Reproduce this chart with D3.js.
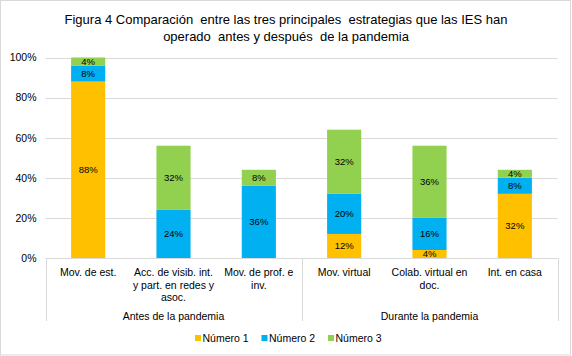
<!DOCTYPE html>
<html>
<head>
<meta charset="utf-8">
<script src="https://cdn.jsdelivr.net/npm/d3@7"></script>
<style>
  html, body { margin: 0; padding: 0; background: #fff; }
  svg { display: block; font-family: "Liberation Sans", Arial, sans-serif; }
</style>
</head>
<body>
<svg id="chart" width="572" height="356"></svg>
<script>
const titleLines = ["Figura 4 Comparación  entre las tres principales  estrategias que las IES han",
                    "operado  antes y después  de la pandemia"];
const categories = ["Mov. de est.", "Acc. de visib. int. y part. en redes y asoc.", "Mov. de prof. e inv.",
                    "Mov. virtual", "Colab. virtual en doc.", "Int. en casa"];
const categoryLines = [["Mov. de est."], ["Acc. de visib. int.", "y part. en redes y", "asoc."], ["Mov. de prof. e", "inv."],
                       ["Mov. virtual"], ["Colab. virtual en", "doc."], ["Int. en casa"]];
const groups = ["Antes de la pandemia", "Durante la pandemia"];
const groupSizes = [3, 3];
const seriesNames = ["Número 1", "Número 2", "Número 3"];
const numero1 = [88, 0, 0, 12, 4, 32];
const numero2 = [8, 24, 36, 20, 16, 8];
const numero3 = [4, 32, 8, 32, 36, 4];
const yTicks = [0, 20, 40, 60, 80, 100];
const colors = ["#FFC000", "#00B0F0", "#92D050"];

const svg = d3.select("#chart");
const W = 572, H = 356;
const plot = { left: 45.5, right: 557.5, top: 57.5, bottom: 258 };

// outer border
svg.append("rect").attr("x", 0.5).attr("y", 0.5).attr("width", 570).attr("height", 354.5)
  .attr("fill", "#fff").attr("stroke", "#d9d9d9");

// title
svg.append("g").selectAll("text").data(titleLines).join("text")
  .attr("x", 286).attr("y", (d, i) => 23.5 + i * 17.5)
  .attr("text-anchor", "middle").attr("font-size", 13).attr("fill", "#000")
  .style("white-space", "pre")
  .text(d => d);

const x = d3.scaleBand().domain(categories).range([plot.left, plot.right])
  .paddingInner(0.6).paddingOuter(0.3);
const y = d3.scaleLinear().domain([0, 100]).range([plot.bottom, plot.top]);

// gridlines
svg.append("g").selectAll("line").data(yTicks.filter(t => t > 0)).join("line")
  .attr("x1", plot.left).attr("x2", plot.right)
  .attr("y1", d => Math.round(y(d)) + 0.5).attr("y2", d => Math.round(y(d)) + 0.5)
  .attr("stroke", "#d9d9d9").attr("stroke-width", 1);

// y axis labels
const yAxis = d3.axisLeft(y).tickValues(yTicks).tickFormat(d => d + "%").tickSize(0).tickPadding(9);
const gy = svg.append("g").attr("transform", `translate(${plot.left},0)`).call(yAxis);
gy.select(".domain").remove();
gy.selectAll("text").attr("font-size", 10.5).attr("fill", "#000").attr("font-family", "Liberation Sans, Arial, sans-serif");

// stacked data
const rows = categories.map((c, i) => ({ cat: c, s0: numero1[i], s1: numero2[i], s2: numero3[i] }));
const stack = d3.stack().keys(["s0", "s1", "s2"]);
const series = stack(rows);

const gBars = svg.append("g");
series.forEach((s, si) => {
  gBars.append("g").attr("fill", colors[si]).selectAll("rect").data(s).join("rect")
    .attr("x", d => x(d.data.cat))
    .attr("width", x.bandwidth())
    .attr("y", d => y(d[1]))
    .attr("height", d => y(d[0]) - y(d[1]));
});

// data labels
series.forEach((s, si) => {
  gBars.append("g").selectAll("text").data(s.filter(d => d[1] - d[0] > 0)).join("text")
    .attr("x", d => x(d.data.cat) + x.bandwidth() / 2)
    .attr("y", d => (y(d[0]) + y(d[1])) / 2)
    .attr("dy", "0.35em")
    .attr("text-anchor", "middle").attr("font-size", 9.5).attr("fill", "#000")
    .text(d => (d[1] - d[0]) + "%");
});

// category axis line
svg.append("line").attr("x1", plot.left).attr("x2", plot.right)
  .attr("y1", plot.bottom + 0.5).attr("y2", plot.bottom + 0.5).attr("stroke", "#d9d9d9");

// group dividers
const step = x.step();
let idx = 0;
const dividerX = [plot.left];
groupSizes.forEach(n => { idx += n; dividerX.push(plot.left + idx * step); });
svg.append("g").selectAll("line").data(dividerX).join("line")
  .attr("x1", d => Math.round(d) + 0.5).attr("x2", d => Math.round(d) + 0.5)
  .attr("y1", plot.bottom).attr("y2", 321)
  .attr("stroke", "#d9d9d9");

// category labels
const gCat = svg.append("g");
categories.forEach((c, i) => {
  gCat.append("text")
    .attr("x", x(c) + x.bandwidth() / 2)
    .attr("text-anchor", "middle").attr("font-size", 10.5).attr("fill", "#000")
    .selectAll("tspan").data(categoryLines[i]).join("tspan")
    .attr("x", x(c) + x.bandwidth() / 2)
    .attr("y", (d, j) => 276 + j * 12.6)
    .text(d => d);
});

// group labels
let start = 0;
groups.forEach((g, gi) => {
  const n = groupSizes[gi];
  const cx = plot.left + (start + n / 2) * step;
  svg.append("text").attr("x", cx).attr("y", 319.5)
    .attr("text-anchor", "middle").attr("font-size", 10.5).attr("fill", "#000").text(g);
  start += n;
});

// legend
const legendX = [195, 261.5, 328];
const gLeg = svg.append("g");
seriesNames.forEach((nm, i) => {
  gLeg.append("rect").attr("x", legendX[i]).attr("y", 335).attr("width", 6).attr("height", 6).attr("fill", colors[i]);
  gLeg.append("text").attr("x", legendX[i] + 7.5).attr("y", 342).attr("font-size", 10.5).attr("fill", "#000").text(nm);
});
</script>
</body>
</html>
